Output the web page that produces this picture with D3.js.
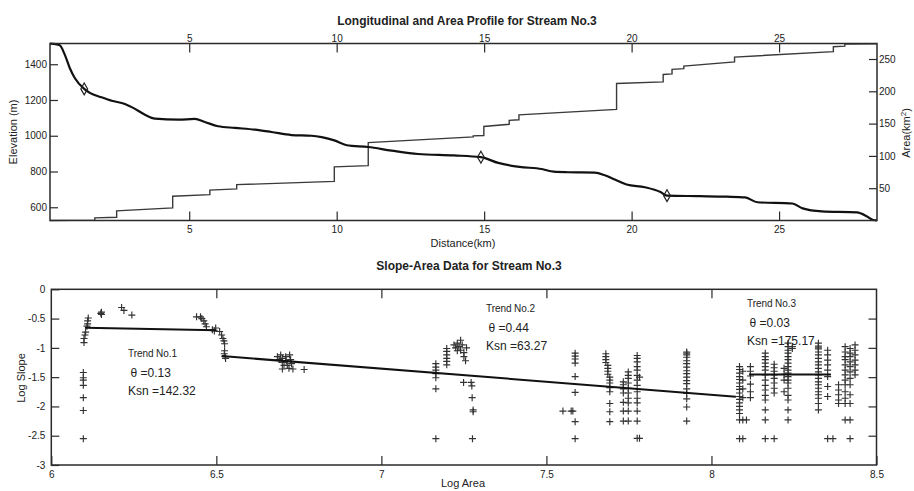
<!DOCTYPE html>
<html><head><meta charset="utf-8">
<script src="https://cdn.jsdelivr.net/npm/d3@7"></script>
<style>
body{margin:0;background:#fff;}
text{font-family:"Liberation Sans",Arial,sans-serif;fill:#222;}
</style></head>
<body>
<svg id="c" width="914" height="491"></svg>
<script>
// ---------- data: longitudinal profile ----------
const profileDist = [0.28,0.40,0.61,0.78,0.95,1.12,1.44,1.63,2.03,2.37,2.82,3.10,3.50,3.84,4.63,5.19,5.53,5.98,6.55,7.23,7.79,8.47,9.15,9.49,9.92,10.34,11.07,11.86,12.76,13.97,14.89,15.48,16.20,16.95,17.36,17.85,18.75,19.09,19.43,19.83,20.45,20.98,21.20,22.32,23.22,23.85,24.27,25.45,25.80,26.45,27.64,27.97,28.19,28.32];
const profileElev = [1515,1514,1506,1454,1379,1323,1262,1240,1215,1196,1178,1156,1118,1096,1090,1094,1077,1053,1044,1034,1021,1004,1000,992,974,947,937,917,898,890,880,848,826,814,799,796,794,779,755,727,712,685,665,662,659,655,628,621,594,577,571,550,529,527];
const knickDist = [1.44,14.89,21.20];
const knickElev = [1262,880,665];

// ---------- data: drainage area profile ----------
const areaDist = [0.28,1.80,1.80,2.54,2.54,4.44,4.44,5.70,5.70,6.61,6.61,9.92,9.92,11.07,11.07,14.63,14.63,14.99,14.99,15.85,15.85,16.18,16.18,19.49,19.49,21.07,21.07,21.37,21.37,21.77,21.77,23.49,23.49,26.84,26.84,27.23,27.23,28.32];
const areaVal  = [0,0.5,4,5,15,19.5,37.5,40,47,49,55.5,60.5,83,85,120.5,129.5,131,131.5,145.5,149,155,156,163.5,172,212,214.5,226,227,234,235,239,245.5,253,261.5,269,270,273,273.5];

const distTicks = [5,10,15,20,25];
const elevTicks = [600,800,1000,1200,1400];
const areaTicks = [50,100,150,200,250];

// ---------- data: slope-area (log area, [log slopes]) ----------
const slopeCols = [
 [6.112,[-0.49]],[6.110,[-0.54,-0.59]],[6.108,[-0.63]],[6.104,[-0.73]],[6.102,[-0.78]],[6.099,[-0.84,-0.91]],
 [6.097,[-1.42,-1.51,-1.55,-1.64,-1.85,-2.07,-2.55]],
 [6.152,[-0.39,-0.43]],[6.150,[-0.41]],[6.213,[-0.31]],[6.220,[-0.36]],[6.244,[-0.44]],
 [6.440,[-0.47]],[6.452,[-0.47]],[6.456,[-0.50]],[6.462,[-0.54]],[6.466,[-0.59]],[6.470,[-0.64]],[6.488,[-0.69]],[6.494,[-0.71]],[6.498,[-0.66]],
 [6.510,[-0.72]],[6.516,[-0.78]],[6.520,[-0.84]],[6.523,[-0.88]],[6.525,[-0.93,-1.05]],[6.524,[-1.10]],[6.527,[-1.15]],[6.528,[-1.18]],
 [6.685,[-1.15]],[6.690,[-1.20]],[6.695,[-1.12]],[6.700,[-1.18,-1.25,-1.36]],[6.705,[-1.30]],[6.710,[-1.15]],[6.712,[-1.22]],[6.715,[-1.30]],
 [6.720,[-1.35]],[6.722,[-1.12]],[6.725,[-1.20]],[6.728,[-1.27]],[6.732,[-1.36]],[6.766,[-1.37]],
 [7.165,[-1.27,-1.33,-1.38,-1.44,-1.51,-1.70,-2.55]],
 [7.198,[-1.01,-1.06,-1.12,-1.18,-1.23,-1.29]],
 [7.220,[-0.95]],[7.225,[-1.00]],[7.230,[-0.92,-1.05]],[7.235,[-0.98]],[7.240,[-0.87,-1.04]],[7.245,[-0.95]],[7.250,[-1.08,-1.15]],[7.255,[-1.22]],[7.258,[-1.00]],
 [7.249,[-1.59]],[7.272,[-1.59]],[7.274,[-1.65]],[7.275,[-1.85]],[7.278,[-2.06,-2.09]],[7.276,[-2.55]],
 [7.587,[-1.09,-1.14,-1.19,-1.26,-1.49,-1.76,-2.26,-2.55]],[7.550,[-2.08]],[7.575,[-2.08]],[7.580,[-2.08]],
 [7.680,[-1.10,-1.15,-1.20,-1.25]],[7.686,[-1.30,-1.35,-1.40,-1.45]],[7.692,[-1.50,-1.55,-1.60,-1.68,-1.75,-1.95,-2.09,-2.26]],
 [7.733,[-1.58,-1.63,-1.70,-1.77,-1.93,-2.08,-2.25]],
 [7.748,[-1.41,-1.47,-1.52,-1.60,-1.69,-1.77,-1.86,-1.94,-2.08,-2.25]],
 [7.775,[-1.13,-1.18,-1.24,-1.32,-1.38,-1.47,-1.55,-1.64,-1.75,-1.86,-1.94,-2.08,-2.25,-2.545]],[7.782,[-2.545,-1.50]],
 [7.925,[-1.07,-1.09,-1.12,-1.16,-1.22,-1.27,-1.33,-1.39,-1.44,-1.50,-1.56,-1.61,-1.70,-1.78,-1.87,-2.01,-2.25]],
 [8.085,[-1.32,-1.37,-1.43,-1.49,-1.54,-1.60,-1.66,-1.71,-1.77,-1.83,-1.88,-1.94,-2.00,-2.06,-2.12,-2.23,-2.55]],
 [8.095,[-1.40,-1.55,-1.70,-1.85,-2.23,-2.55]],[8.106,[-2.23]],
 [8.118,[-1.32,-1.40,-1.48,-1.62,-1.75,-1.85]],
 [8.163,[-1.09,-1.15,-1.20,-1.26,-1.32,-1.38,-1.46,-1.55,-1.64,-1.72,-1.81,-1.89,-2.06,-2.23,-2.55]],
 [8.190,[-1.28,-1.34,-1.40,-1.46,-1.52,-1.60,-1.69,-1.77,-2.55]],
 [8.232,[-0.92,-0.98,-1.04,-1.09,-1.15,-1.20,-1.26,-1.32,-1.38,-1.43,-1.49,-1.55,-1.60,-1.69,-1.81,-1.89,-2.06,-2.23]],
 [8.245,[-0.98,-1.01]],[8.220,[-1.35,-1.45,-1.55,-1.75]],
 [8.324,[-0.92,-0.97,-1.00,-1.02,-1.07,-1.12,-1.18,-1.24,-1.29,-1.35,-1.41,-1.46,-1.52,-1.58,-1.63,-1.69,-1.75,-1.80,-1.86,-1.95,-2.06]],
 [8.352,[-1.04,-1.12,-1.21,-1.29,-1.38,-1.49,-1.66,-1.83,-2.55]],[8.368,[-2.55]],
 [8.385,[-1.63,-1.72,-1.80,-1.89,-1.95]],
 [8.405,[-0.98,-1.07,-1.15,-1.20,-1.29,-1.38,-1.46,-1.55,-1.63,-1.75,-1.86,-1.95,-2.23]],
 [8.420,[-1.01,-1.09,-1.15,-1.24,-1.32,-1.41,-1.52,-1.63,-1.80,-1.95,-2.23,-2.55]],
 [8.435,[-0.95,-1.04,-1.12,-1.21,-1.29,-1.38,-1.46]]
];
const trendX = [[6.102,6.500],[6.516,8.074],[8.114,8.362]];
const trendY = [[-0.656,-0.700],[-1.140,-1.834],[-1.455,-1.455]];
const trendNames = ["Trend No.1","Trend No.2","Trend No.3"];
const trendTheta = ["0.13","0.44","0.03"];
const trendKsn = ["142.32","63.27","175.17"];
const logAreaTicks = [6,6.5,7,7.5,8,8.5];
const logSlopeTicks = [0,-0.5,-1,-1.5,-2,-2.5,-3];

// ---------- drawing ----------
const svg = d3.select("#c");
const ink = "#2a2a2a";

// ===== top chart =====
const T = {l:50, r:877, t:43.5, b:220.5};
const xD = d3.scaleLinear().domain([0.28,28.32]).range([T.l,T.r]);
const yE = d3.scaleLinear().domain([526,1516]).range([T.b,T.t]);
const yA = d3.scaleLinear().domain([0,274]).range([T.b,T.t]);

function styleAxis(g){
  g.select(".domain").remove();
  g.selectAll(".tick line").attr("stroke",ink).attr("stroke-width",1.2);
  g.selectAll(".tick text").attr("fill","#222").style("font-size","10px").style("font-family","'Liberation Sans',Arial,sans-serif");
}
svg.append("g").attr("transform",`translate(0,${T.b})`)
  .call(d3.axisBottom(xD).tickValues(distTicks).tickSize(-9).tickPadding(5).tickFormat(d3.format("d"))).call(styleAxis);
svg.append("g").attr("transform",`translate(0,${T.t})`)
  .call(d3.axisTop(xD).tickValues(distTicks).tickSize(-9).tickPadding(2).tickFormat(d3.format("d"))).call(styleAxis);
svg.append("g").attr("transform",`translate(${T.l},0)`)
  .call(d3.axisLeft(yE).tickValues(elevTicks).tickSize(-8).tickPadding(3).tickFormat(d3.format("d"))).call(styleAxis);
svg.append("g").attr("transform",`translate(${T.r},0)`)
  .call(d3.axisRight(yA).tickValues(areaTicks).tickSize(-8).tickPadding(2).tickFormat(d3.format("d"))).call(styleAxis);

const areaPts = areaDist.map((d,i)=>[d,areaVal[i]]);
svg.append("path").datum(areaPts)
  .attr("d", d3.line().x(d=>xD(d[0])).y(d=>yA(d[1])))
  .attr("fill","none").attr("stroke","#3a3a3a").attr("stroke-width",1.4);

const profPts = profileDist.map((d,i)=>[d,profileElev[i]]);
svg.append("path").datum(profPts)
  .attr("d", d3.line().curve(d3.curveMonotoneX).x(d=>xD(d[0])).y(d=>yE(d[1])))
  .attr("fill","none").attr("stroke","#111").attr("stroke-width",2.2);

svg.selectAll(".knick").data(knickDist.map((d,i)=>[d,knickElev[i]])).enter()
  .append("path")
  .attr("d", d3.symbol(d3.symbolDiamond,40)())
  .attr("transform", d=>`translate(${xD(d[0])},${yE(d[1])})`)
  .attr("fill","none").attr("stroke","#222").attr("stroke-width",1.2);

svg.append("rect").attr("x",T.l).attr("y",T.t).attr("width",T.r-T.l).attr("height",T.b-T.t)
  .attr("fill","none").attr("stroke",ink).attr("stroke-width",1.5);

svg.append("text").attr("x",467).attr("y",24.5).attr("text-anchor","middle")
  .style("font-size","12px").style("font-weight","bold").text("Longitudinal and Area Profile for Stream No.3");
svg.append("text").attr("x",463).attr("y",247).attr("text-anchor","middle")
  .style("font-size","11px").text("Distance(km)");
svg.append("text").attr("transform","translate(17,132) rotate(-90)").attr("text-anchor","middle")
  .style("font-size","11px").text("Elevation (m)");
const at = svg.append("text").attr("transform","translate(910,133) rotate(-90)").attr("text-anchor","middle")
  .style("font-size","11px");
at.append("tspan").text("Area(km");
at.append("tspan").attr("dy",-4).style("font-size","8px").text("2");
at.append("tspan").attr("dy",4).text(")");

// ===== bottom chart =====
const B = {l:51.3, r:876.5, t:289.3, b:465};
const xL = d3.scaleLinear().domain([6,8.5]).range([B.l,B.r]);
const yS = d3.scaleLinear().domain([-3,0]).range([B.b,B.t]);
const fmt = d=>String(d);

svg.append("g").attr("transform",`translate(0,${B.b})`)
  .call(d3.axisBottom(xL).tickValues(logAreaTicks).tickSize(-9).tickPadding(6).tickFormat(fmt)).call(styleAxis);
svg.append("g").attr("transform",`translate(0,${B.t})`)
  .call(d3.axisTop(xL).tickValues(logAreaTicks.slice(1,-1)).tickSize(-9).tickFormat("")).call(styleAxis);
svg.append("g").attr("transform",`translate(${B.l},0)`)
  .call(d3.axisLeft(yS).tickValues(logSlopeTicks).tickSize(-8).tickPadding(6).tickFormat(fmt)).call(styleAxis);
svg.append("g").attr("transform",`translate(${B.r},0)`)
  .call(d3.axisRight(yS).tickValues(logSlopeTicks.slice(1,-1)).tickSize(-8).tickFormat("")).call(styleAxis);

const slopePts = slopeCols.flatMap(c=>c[1].map(y=>[c[0],y]));
svg.selectAll(".pt").data(slopePts).enter().append("path")
  .attr("d", "M-3.5,0H3.5M0,-3.5V3.5")
  .attr("transform", d=>`translate(${xL(d[0])},${yS(d[1])})`)
  .attr("fill","none").attr("stroke","#333").attr("stroke-width",1.15);

trendX.forEach((tx,i)=>{
  svg.append("path").datum(tx.map((x,j)=>[x,trendY[i][j]]))
    .attr("d", d3.line().x(d=>xL(d[0])).y(d=>yS(d[1])))
    .attr("fill","none").attr("stroke","#111").attr("stroke-width",2);
});

const labelPos = [[128,357],[486,312],[747,307]];
trendNames.forEach((n,i)=>{
  const [lx,ly] = labelPos[i];
  svg.append("text").attr("x",lx).attr("y",ly).style("font-size","10px").attr("textLength",49).text(n);
  svg.append("text").attr("x",lx+2.5).attr("y",ly+19.5).style("font-size","12px").text("θ =" + trendTheta[i]);
  svg.append("text").attr("x",lx).attr("y",ly+37.5).style("font-size","12px").text("Ksn =" + trendKsn[i]);
});

svg.append("rect").attr("x",B.l).attr("y",B.t).attr("width",B.r-B.l).attr("height",B.b-B.t)
  .attr("fill","none").attr("stroke",ink).attr("stroke-width",1.5);

svg.append("text").attr("x",469).attr("y",270).attr("text-anchor","middle")
  .style("font-size","12px").style("font-weight","bold").text("Slope-Area Data for Stream No.3");
svg.append("text").attr("x",463).attr("y",487).attr("text-anchor","middle")
  .style("font-size","11px").text("Log Area");
svg.append("text").attr("transform","translate(25,378) rotate(-90)").attr("text-anchor","middle")
  .style("font-size","11px").text("Log Slope");
</script>
</body></html>
